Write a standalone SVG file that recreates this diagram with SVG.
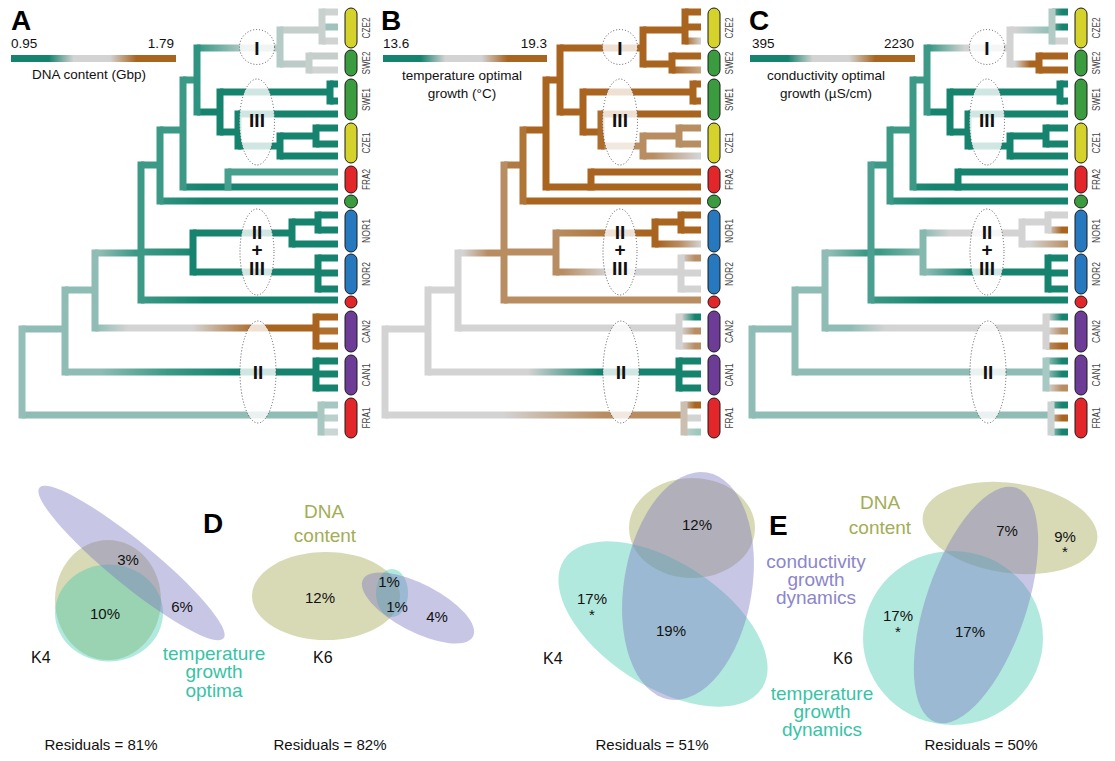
<svg xmlns="http://www.w3.org/2000/svg" width="1115" height="761" viewBox="0 0 1115 761">
<style>
text{font-family:"Liberation Sans",Arial,sans-serif}
.T{fill:#16836e}.Tm{fill:#3c9986}.L{fill:#8fbcb4}.G{fill:#d3d3d3}.N{fill:#b88d62}.B{fill:#a9641f}
.lab{font-size:13.5px;fill:#111}
.let{font-size:28px;font-weight:bold;fill:#000}
.rn{font-size:19px;font-weight:bold;fill:#111;text-anchor:middle}
.cl{fill:#fff;fill-opacity:.8;stroke:#555;stroke-width:1;stroke-dasharray:1 2}
.pill{stroke:#1a1a1a;stroke-width:1}
.tip{font-size:10.5px;fill:#444;text-anchor:middle}
.vo{fill:#a9ad5a;fill-opacity:.45}
.vp{fill:#7b76c0;fill-opacity:.42}
.vt{fill:#3cc9ac;fill-opacity:.4}
.pc{font-size:15px;fill:#111;text-anchor:middle}
.k{font-size:16px;fill:#111}
.cat{font-size:19px;text-anchor:middle}
.co{fill:#a3ad55}.ct{fill:#38c3a6}.cp{fill:#8c86c9}
</style>
<defs>
<linearGradient id="leg" x1="0" x2="1" y1="0" y2="0"><stop offset="0" stop-color="#16836e"/><stop offset=".23" stop-color="#16836e"/><stop offset=".38" stop-color="#d3d3d3"/><stop offset=".6" stop-color="#d3d3d3"/><stop offset=".76" stop-color="#a9641f"/><stop offset="1" stop-color="#a9641f"/></linearGradient>
<linearGradient id="g1" gradientUnits="userSpaceOnUse" x1="100" x2="235" y1="0" y2="0"><stop offset="0" stop-color="#8fbcb4"/><stop offset=".5" stop-color="#3c9986"/><stop offset="1" stop-color="#16836e"/></linearGradient>
<linearGradient id="g2" gradientUnits="userSpaceOnUse" x1="95" x2="258" y1="0" y2="0"><stop offset="0" stop-color="#8fbcb4"/><stop offset=".2" stop-color="#d3d3d3"/><stop offset=".6" stop-color="#d3d3d3"/><stop offset="1" stop-color="#a9641f"/></linearGradient>
<linearGradient id="g3" gradientUnits="userSpaceOnUse" x1="100" x2="135" y1="0" y2="0"><stop offset="0" stop-color="#8fbcb4"/><stop offset="1" stop-color="#3c9986"/></linearGradient>
<linearGradient id="g4" gradientUnits="userSpaceOnUse" x1="141" x2="205" y1="0" y2="0"><stop offset="0" stop-color="#3c9986"/><stop offset="1" stop-color="#16836e"/></linearGradient>
<linearGradient id="g5" gradientUnits="userSpaceOnUse" x1="200" x2="245" y1="0" y2="0"><stop offset="0" stop-color="#3c9986"/><stop offset="1" stop-color="#b5cbc6"/></linearGradient>
<linearGradient id="h1" gradientUnits="userSpaceOnUse" x1="140" x2="240" y1="0" y2="0"><stop offset="0" stop-color="#d3d3d3"/><stop offset="1" stop-color="#b88d62"/></linearGradient>
<linearGradient id="h2" gradientUnits="userSpaceOnUse" x1="165" x2="235" y1="0" y2="0"><stop offset="0" stop-color="#d3d3d3"/><stop offset="1" stop-color="#16836e"/></linearGradient>
<linearGradient id="h3" gradientUnits="userSpaceOnUse" x1="100" x2="125" y1="0" y2="0"><stop offset="0" stop-color="#d3d3d3"/><stop offset="1" stop-color="#b88d62"/></linearGradient>
<linearGradient id="h4" gradientUnits="userSpaceOnUse" x1="193" x2="280" y1="0" y2="0"><stop offset="0" stop-color="#b88d62"/><stop offset="1" stop-color="#a9641f"/></linearGradient>
<linearGradient id="h5" gradientUnits="userSpaceOnUse" x1="295" x2="338" y1="0" y2="0"><stop offset="0" stop-color="#a9641f"/><stop offset=".5" stop-color="#b88d62"/><stop offset="1" stop-color="#d3d3d3"/></linearGradient>
<linearGradient id="h6" gradientUnits="userSpaceOnUse" x1="200" x2="245" y1="0" y2="0"><stop offset="0" stop-color="#b88d62"/><stop offset="1" stop-color="#d3d3d3"/></linearGradient>
<linearGradient id="h7" gradientUnits="userSpaceOnUse" x1="322" x2="338" y1="0" y2="0"><stop offset="0" stop-color="#a9641f"/><stop offset="1" stop-color="#d3d3d3"/></linearGradient>
<linearGradient id="h8" gradientUnits="userSpaceOnUse" x1="309" x2="338" y1="0" y2="0"><stop offset="0" stop-color="#a9641f"/><stop offset="1" stop-color="#c9a987"/></linearGradient>
<linearGradient id="h9" gradientUnits="userSpaceOnUse" x1="290" x2="335" y1="0" y2="0"><stop offset="0" stop-color="#b88d62"/><stop offset="1" stop-color="#d3d3d3"/></linearGradient>
<linearGradient id="h10" gradientUnits="userSpaceOnUse" x1="318" x2="332" y1="0" y2="0"><stop offset="0" stop-color="#d3d3d3"/><stop offset="1" stop-color="#16836e"/></linearGradient>
<linearGradient id="h11" gradientUnits="userSpaceOnUse" x1="318" x2="332" y1="0" y2="0"><stop offset="0" stop-color="#d3d3d3"/><stop offset="1" stop-color="#b88d62"/></linearGradient>
<linearGradient id="h12" gradientUnits="userSpaceOnUse" x1="318" x2="332" y1="0" y2="0"><stop offset="0" stop-color="#d3d3d3"/><stop offset="1" stop-color="#a9641f"/></linearGradient>
<linearGradient id="h13" gradientUnits="userSpaceOnUse" x1="318" x2="334" y1="0" y2="0"><stop offset="0" stop-color="#d3d3d3"/><stop offset="1" stop-color="#9cc8be"/></linearGradient>
<linearGradient id="k1" gradientUnits="userSpaceOnUse" x1="120" x2="155" y1="0" y2="0"><stop offset="0" stop-color="#8fbcb4"/><stop offset="1" stop-color="#d3d3d3"/></linearGradient>
<linearGradient id="k4" gradientUnits="userSpaceOnUse" x1="195" x2="220" y1="0" y2="0"><stop offset="0" stop-color="#8fbcb4"/><stop offset="1" stop-color="#d3d3d3"/></linearGradient>
<linearGradient id="k5" gradientUnits="userSpaceOnUse" x1="195" x2="240" y1="0" y2="0"><stop offset="0" stop-color="#8fbcb4"/><stop offset="1" stop-color="#16836e"/></linearGradient>
<linearGradient id="k6" gradientUnits="userSpaceOnUse" x1="200" x2="235" y1="0" y2="0"><stop offset="0" stop-color="#3c9986"/><stop offset="1" stop-color="#d3d3d3"/></linearGradient>
<linearGradient id="k7" gradientUnits="userSpaceOnUse" x1="285" x2="322" y1="0" y2="0"><stop offset="0" stop-color="#d3d3d3"/><stop offset="1" stop-color="#8cbfb5"/></linearGradient>
<linearGradient id="k8" gradientUnits="userSpaceOnUse" x1="285" x2="300" y1="0" y2="0"><stop offset="0" stop-color="#d3d3d3"/><stop offset="1" stop-color="#a9641f"/></linearGradient>
<linearGradient id="k9" gradientUnits="userSpaceOnUse" x1="318" x2="332" y1="0" y2="0"><stop offset="0" stop-color="#8fbcb4"/><stop offset="1" stop-color="#16836e"/></linearGradient>
<linearGradient id="k13" gradientUnits="userSpaceOnUse" x1="318" x2="332" y1="0" y2="0"><stop offset="0" stop-color="#b88d62"/><stop offset="1" stop-color="#a9641f"/></linearGradient>
<linearGradient id="k14" gradientUnits="userSpaceOnUse" x1="150" x2="193" y1="0" y2="0"><stop offset="0" stop-color="#3c9986"/><stop offset="1" stop-color="#86b9ae"/></linearGradient>
<linearGradient id="k15" gradientUnits="userSpaceOnUse" x1="300" x2="338" y1="0" y2="0"><stop offset="0" stop-color="#d3d3d3"/><stop offset="1" stop-color="#b88d62"/></linearGradient>
</defs>
<rect width="1115" height="761" fill="#fff"/>

<!-- Legends -->
<g id="legendA">
<text class="let" x="11" y="30">A</text>
<text class="lab" x="11" y="48">0.95</text>
<text class="lab" x="174" y="48" text-anchor="end">1.79</text>
<rect x="11" y="55" width="165" height="7" fill="url(#leg)"/>
<text class="lab" x="89" y="79" text-anchor="middle">DNA content (Gbp)</text>
</g>
<g id="legendB">
<text class="let" x="381" y="30">B</text>
<text class="lab" x="383" y="48">13.6</text>
<text class="lab" x="547" y="48" text-anchor="end">19.3</text>
<rect x="383" y="55" width="164" height="7" fill="url(#leg)"/>
<text class="lab" x="462" y="80" text-anchor="middle">temperature optimal</text>
<text class="lab" x="462" y="98" text-anchor="middle">growth (°C)</text>
</g>
<g id="legendC">
<text class="let" x="749" y="30">C</text>
<text class="lab" x="752" y="48">395</text>
<text class="lab" x="914" y="48" text-anchor="end">2230</text>
<rect x="750" y="55" width="165" height="7" fill="url(#leg)"/>
<text class="lab" x="826" y="80" text-anchor="middle">conductivity optimal</text>
<text class="lab" x="826" y="98" text-anchor="middle">growth (µS/cm)</text>
</g>

<!-- Panel A tree -->
<g id="treeA">
<g id="connectorsA">
<rect class="L" x="22" y="411.5" width="299" height="7"/>
<rect class="L" x="22" y="325.5" width="43" height="7"/>
<rect fill="url(#g1)" x="65" y="368.5" width="251" height="7"/>
<rect class="L" x="65" y="286.5" width="30" height="7"/>
<rect fill="url(#g2)" x="95" y="324.5" width="221" height="7"/>
<rect fill="url(#g3)" x="95" y="249.5" width="46" height="7"/>
<rect fill="url(#g4)" x="141" y="296.5" width="197" height="7"/>
<rect fill="url(#g4)" x="141" y="248.5" width="52" height="7"/>
<rect class="T" x="193" y="229.5" width="99" height="7"/>
<rect class="T" x="193" y="268.5" width="125" height="7"/>
<rect class="T" x="292" y="218.5" width="26" height="7"/>
<rect class="T" x="318" y="211.5" width="20" height="7"/>
<rect class="T" x="318" y="226.5" width="20" height="7"/>
<rect class="T" x="292" y="240.5" width="46" height="7"/>
<rect class="T" x="318" y="254.5" width="20" height="7"/>
<rect class="T" x="318" y="269.5" width="20" height="7"/>
<rect class="T" x="318" y="285.5" width="20" height="7"/>
<rect class="Tm" x="141" y="161.5" width="19" height="7"/>
<rect fill="url(#g4)" x="160" y="197.5" width="178" height="7"/>
<rect class="Tm" x="160" y="126.5" width="23" height="7"/>
<rect fill="url(#g4)" x="183" y="183.5" width="155" height="7"/>
<rect fill="#45a08d" x="228" y="168.5" width="110" height="7"/>
<rect class="Tm" x="183" y="76.5" width="14" height="7"/>
<rect fill="url(#g5)" x="197" y="44.5" width="83" height="7"/>
<rect fill="#c4cecb" x="280" y="26.5" width="42" height="7"/>
<rect fill="#ccd3d1" x="322" y="8.5" width="16" height="7"/>
<rect fill="#9fc3bc" x="322" y="23.5" width="16" height="7"/>
<rect fill="#d0d3d2" x="322" y="37.5" width="16" height="7"/>
<rect fill="#bccbc8" x="280" y="60.5" width="29" height="7"/>
<rect fill="#c4cfcc" x="309" y="52.5" width="29" height="7"/>
<rect fill="#d0d4d3" x="309" y="66.5" width="29" height="7"/>
<rect class="T" x="197" y="108.5" width="23" height="7"/>
<rect class="T" x="220" y="88.5" width="110" height="7"/>
<rect class="T" x="330" y="80.5" width="8" height="7"/>
<rect class="T" x="330" y="97.5" width="8" height="7"/>
<rect class="T" x="220" y="128.5" width="18" height="7"/>
<rect class="T" x="238" y="110.5" width="100" height="7"/>
<rect class="T" x="238" y="142.5" width="42" height="7"/>
<rect class="T" x="280" y="132.5" width="36" height="7"/>
<rect class="T" x="316" y="124.5" width="22" height="7"/>
<rect class="T" x="316" y="140.5" width="22" height="7"/>
<rect class="T" x="280" y="152.5" width="58" height="7"/>
<rect class="B" x="316" y="313.5" width="22" height="7"/>
<rect fill="#b0712f" x="316" y="327.5" width="22" height="7"/>
<rect class="B" x="316" y="342.5" width="22" height="7"/>
<rect class="T" x="316" y="357.5" width="22" height="7"/>
<rect class="T" x="316" y="370.5" width="22" height="7"/>
<rect class="T" x="316" y="384.5" width="22" height="7"/>
<rect fill="#a6c7c1" x="321" y="401.5" width="17" height="7"/>
<rect fill="#b9d0cb" x="321" y="414.5" width="17" height="7"/>
<rect fill="#c9d6d3" x="321" y="428.5" width="17" height="7"/>
<rect fill="#93bfb7" x="18.5" y="325.5" width="7" height="93"/>
<rect class="L" x="61.5" y="286.5" width="7" height="89"/>
<rect class="L" x="91.5" y="249.5" width="7" height="82"/>
<rect class="Tm" x="137.5" y="161.5" width="7" height="142"/>
<rect class="Tm" x="156.5" y="126.5" width="7" height="78"/>
<rect class="Tm" x="179.5" y="76.5" width="7" height="114"/>
<rect fill="#2f9381" x="193.5" y="44.5" width="7" height="71"/>
<rect class="T" x="216.5" y="88.5" width="7" height="47"/>
<rect class="T" x="234.5" y="110.5" width="7" height="39"/>
<rect class="T" x="276.5" y="132.5" width="7" height="27"/>
<rect class="T" x="312.5" y="124.5" width="7" height="23"/>
<rect fill="#b6cbc7" x="276.5" y="26.5" width="7" height="41"/>
<rect fill="#c9d1cf" x="318.5" y="8.5" width="7" height="36"/>
<rect fill="#c5cfcc" x="305.5" y="52.5" width="7" height="21"/>
<rect class="T" x="326.5" y="80.5" width="7" height="24"/>
<rect fill="#45a08d" x="224.5" y="168.5" width="7" height="22"/>
<rect class="T" x="189.5" y="229.5" width="7" height="46"/>
<rect class="T" x="288.5" y="218.5" width="7" height="29"/>
<rect class="T" x="314.5" y="211.5" width="7" height="22"/>
<rect class="T" x="314.5" y="254.5" width="7" height="38"/>
<rect class="B" x="312.5" y="313.5" width="7" height="36"/>
<rect class="T" x="312.5" y="357.5" width="7" height="34"/>
<rect fill="#a9c8c2" x="317.5" y="401.5" width="7" height="34"/>
</g>
<g id="cladesA">
<circle class="cl" cx="257" cy="47" r="17.5"/>
<ellipse class="cl" cx="257" cy="122" rx="17.5" ry="43"/>
<ellipse class="cl" cx="257" cy="252" rx="17" ry="43"/>
<ellipse class="cl" cx="258" cy="372" rx="18" ry="51"/>
<text class="rn" x="257" y="55">I</text>
<text class="rn" x="257" y="127">III</text>
<text class="rn" x="257" y="239">II</text>
<text class="rn" x="257" y="256">+</text>
<text class="rn" x="257" y="275">III</text>
<text class="rn" x="258" y="379">II</text>
</g>
<g id="tipsA">
<g id="CZE2"><rect class="pill" x="345" y="8" width="12" height="40" rx="6" fill="#d5d22c"/><text class="tip" transform="translate(370,28) rotate(-90)" textLength="21" lengthAdjust="spacingAndGlyphs">CZE2</text></g>
<g id="SWE2"><rect class="pill" x="345" y="50" width="12" height="26" rx="6" fill="#3b9b3f"/><text class="tip" transform="translate(370,63) rotate(-90)" textLength="23" lengthAdjust="spacingAndGlyphs">SWE2</text></g>
<g id="SWE1"><rect class="pill" x="345" y="79" width="12" height="41" rx="6" fill="#3b9b3f"/><text class="tip" transform="translate(370,99.5) rotate(-90)" textLength="23" lengthAdjust="spacingAndGlyphs">SWE1</text></g>
<g id="CZE1"><rect class="pill" x="345" y="123" width="12" height="40" rx="6" fill="#d5d22c"/><text class="tip" transform="translate(370,143) rotate(-90)" textLength="21" lengthAdjust="spacingAndGlyphs">CZE1</text></g>
<g id="FRA2"><rect class="pill" x="345" y="166" width="12" height="27" rx="6" fill="#e2262a"/><text class="tip" transform="translate(370,179.5) rotate(-90)" textLength="21" lengthAdjust="spacingAndGlyphs">FRA2</text></g>
<g id="dotG"><circle class="pill" cx="351" cy="201.5" r="6.5" fill="#3b9b3f"/></g>
<g id="NOR1"><rect class="pill" x="345" y="210" width="12" height="42" rx="6" fill="#2678bf"/><text class="tip" transform="translate(370,231) rotate(-90)" textLength="24" lengthAdjust="spacingAndGlyphs">NOR1</text></g>
<g id="NOR2"><rect class="pill" x="345" y="254" width="12" height="40" rx="6" fill="#2678bf"/><text class="tip" transform="translate(370,274) rotate(-90)" textLength="24" lengthAdjust="spacingAndGlyphs">NOR2</text></g>
<g id="dotR"><circle class="pill" cx="351" cy="302" r="6" fill="#e2262a"/></g>
<g id="CAN2"><rect class="pill" x="345" y="311" width="12" height="41" rx="6" fill="#6d3c97"/><text class="tip" transform="translate(370,331.5) rotate(-90)" textLength="23" lengthAdjust="spacingAndGlyphs">CAN2</text></g>
<g id="CAN1"><rect class="pill" x="345" y="355" width="12" height="40" rx="6" fill="#6d3c97"/><text class="tip" transform="translate(370,375) rotate(-90)" textLength="23" lengthAdjust="spacingAndGlyphs">CAN1</text></g>
<g id="FRA1"><rect class="pill" x="345" y="398" width="12" height="40" rx="6" fill="#e2262a"/><text class="tip" transform="translate(370,418) rotate(-90)" textLength="21" lengthAdjust="spacingAndGlyphs">FRA1</text></g>
</g>
</g>

<!-- Panel B tree -->
<g id="treeB" transform="translate(363,0)">
<g id="connectorsB">
<rect fill="url(#h1)" x="22" y="411.5" width="299" height="7"/>
<rect class="G" x="22" y="325.5" width="43" height="7"/>
<rect fill="url(#h2)" x="65" y="368.5" width="251" height="7"/>
<rect class="G" x="65" y="286.5" width="30" height="7"/>
<rect class="G" x="95" y="324.5" width="221" height="7"/>
<rect fill="url(#h3)" x="95" y="249.5" width="46" height="7"/>
<rect class="N" x="141" y="296.5" width="197" height="7"/>
<rect class="N" x="141" y="248.5" width="52" height="7"/>
<rect fill="url(#h4)" x="193" y="229.5" width="99" height="7"/>
<rect fill="url(#h6)" x="193" y="268.5" width="125" height="7"/>
<rect class="B" x="292" y="218.5" width="26" height="7"/>
<rect class="B" x="318" y="211.5" width="20" height="7"/>
<rect class="B" x="318" y="226.5" width="20" height="7"/>
<rect fill="url(#h5)" x="292" y="240.5" width="46" height="7"/>
<rect fill="url(#h11)" x="318" y="254.5" width="20" height="7"/>
<rect class="G" x="318" y="269.5" width="20" height="7"/>
<rect class="G" x="318" y="285.5" width="20" height="7"/>
<rect fill="#b07a45" x="141" y="161.5" width="19" height="7"/>
<rect class="B" x="160" y="197.5" width="178" height="7"/>
<rect class="B" x="160" y="126.5" width="23" height="7"/>
<rect class="B" x="183" y="183.5" width="155" height="7"/>
<rect class="B" x="228" y="168.5" width="110" height="7"/>
<rect class="B" x="183" y="76.5" width="14" height="7"/>
<rect class="B" x="197" y="44.5" width="83" height="7"/>
<rect class="B" x="280" y="26.5" width="42" height="7"/>
<rect class="B" x="322" y="8.5" width="16" height="7"/>
<rect class="B" x="322" y="23.5" width="16" height="7"/>
<rect fill="url(#h7)" x="322" y="37.5" width="16" height="7"/>
<rect class="B" x="280" y="60.5" width="29" height="7"/>
<rect class="B" x="309" y="52.5" width="29" height="7"/>
<rect fill="url(#h8)" x="309" y="66.5" width="29" height="7"/>
<rect class="B" x="197" y="108.5" width="23" height="7"/>
<rect class="B" x="220" y="88.5" width="110" height="7"/>
<rect class="B" x="330" y="80.5" width="8" height="7"/>
<rect class="B" x="330" y="97.5" width="8" height="7"/>
<rect class="B" x="220" y="128.5" width="18" height="7"/>
<rect class="B" x="238" y="110.5" width="100" height="7"/>
<rect class="N" x="238" y="142.5" width="42" height="7"/>
<rect class="N" x="280" y="132.5" width="36" height="7"/>
<rect class="N" x="316" y="124.5" width="22" height="7"/>
<rect class="N" x="316" y="140.5" width="22" height="7"/>
<rect fill="url(#h9)" x="280" y="152.5" width="58" height="7"/>
<rect fill="url(#h10)" x="316" y="313.5" width="22" height="7"/>
<rect fill="url(#h11)" x="316" y="327.5" width="22" height="7"/>
<rect fill="url(#h11)" x="316" y="342.5" width="22" height="7"/>
<rect class="T" x="316" y="357.5" width="22" height="7"/>
<rect class="T" x="316" y="370.5" width="22" height="7"/>
<rect class="T" x="316" y="384.5" width="22" height="7"/>
<rect fill="url(#h12)" x="321" y="401.5" width="17" height="7"/>
<rect class="G" x="321" y="414.5" width="17" height="7"/>
<rect fill="url(#h13)" x="321" y="428.5" width="17" height="7"/>
<rect class="G" x="18.5" y="325.5" width="7" height="93"/>
<rect class="G" x="61.5" y="286.5" width="7" height="89"/>
<rect class="G" x="91.5" y="249.5" width="7" height="82"/>
<rect class="N" x="137.5" y="161.5" width="7" height="142"/>
<rect fill="#ae7537" x="156.5" y="126.5" width="7" height="78"/>
<rect class="B" x="179.5" y="76.5" width="7" height="114"/>
<rect class="B" x="193.5" y="44.5" width="7" height="71"/>
<rect class="B" x="216.5" y="88.5" width="7" height="47"/>
<rect fill="#ad6c2b" x="234.5" y="110.5" width="7" height="39"/>
<rect class="N" x="276.5" y="132.5" width="7" height="27"/>
<rect class="N" x="312.5" y="124.5" width="7" height="23"/>
<rect class="B" x="276.5" y="26.5" width="7" height="41"/>
<rect class="B" x="318.5" y="8.5" width="7" height="36"/>
<rect class="B" x="305.5" y="52.5" width="7" height="21"/>
<rect class="B" x="326.5" y="80.5" width="7" height="24"/>
<rect class="B" x="224.5" y="168.5" width="7" height="22"/>
<rect class="N" x="189.5" y="229.5" width="7" height="46"/>
<rect class="B" x="288.5" y="218.5" width="7" height="29"/>
<rect class="B" x="314.5" y="211.5" width="7" height="22"/>
<rect class="G" x="314.5" y="254.5" width="7" height="38"/>
<rect class="G" x="312.5" y="313.5" width="7" height="36"/>
<rect class="T" x="312.5" y="357.5" width="7" height="34"/>
<rect fill="#cbbfb2" x="317.5" y="401.5" width="7" height="34"/>
</g>
<use href="#cladesA"/>
<use href="#tipsA"/>
</g>

<!-- Panel C tree -->
<g id="treeC" transform="translate(730,0)">
<g id="connectorsC">
<rect class="L" x="22" y="411.5" width="299" height="7"/>
<rect class="L" x="22" y="325.5" width="43" height="7"/>
<rect class="L" x="65" y="368.5" width="251" height="7"/>
<rect class="L" x="65" y="286.5" width="30" height="7"/>
<rect fill="url(#k1)" x="95" y="324.5" width="221" height="7"/>
<rect fill="url(#g3)" x="95" y="249.5" width="46" height="7"/>
<rect fill="url(#g4)" x="141" y="296.5" width="197" height="7"/>
<rect fill="url(#k14)" x="141" y="248.5" width="52" height="7"/>
<rect fill="url(#k4)" x="193" y="229.5" width="99" height="7"/>
<rect fill="url(#k5)" x="193" y="268.5" width="125" height="7"/>
<rect class="G" x="292" y="218.5" width="26" height="7"/>
<rect class="G" x="318" y="211.5" width="20" height="7"/>
<rect fill="url(#h12)" x="318" y="226.5" width="20" height="7"/>
<rect fill="url(#k15)" x="292" y="240.5" width="46" height="7"/>
<rect class="T" x="318" y="254.5" width="20" height="7"/>
<rect class="T" x="318" y="269.5" width="20" height="7"/>
<rect class="T" x="318" y="285.5" width="20" height="7"/>
<rect class="Tm" x="141" y="161.5" width="19" height="7"/>
<rect fill="url(#g4)" x="160" y="197.5" width="178" height="7"/>
<rect class="Tm" x="160" y="126.5" width="23" height="7"/>
<rect fill="url(#g4)" x="183" y="183.5" width="155" height="7"/>
<rect class="T" x="228" y="168.5" width="110" height="7"/>
<rect class="Tm" x="183" y="76.5" width="14" height="7"/>
<rect fill="url(#k6)" x="197" y="44.5" width="83" height="7"/>
<rect fill="url(#k7)" x="280" y="26.5" width="42" height="7"/>
<rect fill="url(#k9)" x="322" y="8.5" width="16" height="7"/>
<rect fill="url(#k9)" x="322" y="23.5" width="16" height="7"/>
<rect class="G" x="322" y="37.5" width="16" height="7"/>
<rect fill="url(#k8)" x="280" y="60.5" width="29" height="7"/>
<rect class="B" x="309" y="52.5" width="29" height="7"/>
<rect class="B" x="309" y="66.5" width="29" height="7"/>
<rect class="T" x="197" y="108.5" width="23" height="7"/>
<rect class="T" x="220" y="88.5" width="110" height="7"/>
<rect class="T" x="330" y="80.5" width="8" height="7"/>
<rect class="T" x="330" y="97.5" width="8" height="7"/>
<rect class="T" x="220" y="128.5" width="18" height="7"/>
<rect class="T" x="238" y="110.5" width="100" height="7"/>
<rect class="T" x="238" y="142.5" width="42" height="7"/>
<rect class="T" x="280" y="132.5" width="36" height="7"/>
<rect class="T" x="316" y="124.5" width="22" height="7"/>
<rect class="T" x="316" y="140.5" width="22" height="7"/>
<rect class="T" x="280" y="152.5" width="58" height="7"/>
<rect fill="url(#h10)" x="316" y="313.5" width="22" height="7"/>
<rect fill="url(#h11)" x="316" y="327.5" width="22" height="7"/>
<rect fill="url(#k13)" x="316" y="342.5" width="22" height="7"/>
<rect fill="url(#k9)" x="316" y="357.5" width="22" height="7"/>
<rect fill="url(#k9)" x="316" y="370.5" width="22" height="7"/>
<rect fill="url(#h11)" x="316" y="384.5" width="22" height="7"/>
<rect fill="url(#k9)" x="321" y="401.5" width="17" height="7"/>
<rect fill="url(#h12)" x="321" y="414.5" width="17" height="7"/>
<rect fill="url(#h10)" x="321" y="428.5" width="17" height="7"/>
<rect class="L" x="18.5" y="325.5" width="7" height="93"/>
<rect class="L" x="61.5" y="286.5" width="7" height="89"/>
<rect class="L" x="91.5" y="249.5" width="7" height="82"/>
<rect fill="#4a9f90" x="137.5" y="161.5" width="7" height="142"/>
<rect class="Tm" x="156.5" y="126.5" width="7" height="78"/>
<rect class="Tm" x="179.5" y="76.5" width="7" height="114"/>
<rect class="Tm" x="193.5" y="44.5" width="7" height="71"/>
<rect class="T" x="216.5" y="88.5" width="7" height="47"/>
<rect class="T" x="234.5" y="110.5" width="7" height="39"/>
<rect class="T" x="276.5" y="132.5" width="7" height="27"/>
<rect class="T" x="312.5" y="124.5" width="7" height="23"/>
<rect class="G" x="276.5" y="26.5" width="7" height="41"/>
<rect fill="#b3cbc5" x="318.5" y="8.5" width="7" height="36"/>
<rect class="B" x="305.5" y="52.5" width="7" height="21"/>
<rect class="T" x="326.5" y="80.5" width="7" height="24"/>
<rect class="T" x="224.5" y="168.5" width="7" height="22"/>
<rect fill="#86b9ae" x="189.5" y="229.5" width="7" height="46"/>
<rect class="G" x="288.5" y="218.5" width="7" height="29"/>
<rect class="G" x="314.5" y="211.5" width="7" height="22"/>
<rect class="T" x="314.5" y="254.5" width="7" height="38"/>
<rect class="G" x="312.5" y="313.5" width="7" height="36"/>
<rect fill="#a6cac3" x="312.5" y="357.5" width="7" height="34"/>
<rect fill="#c9d3d1" x="317.5" y="401.5" width="7" height="34"/>
</g>
<use href="#cladesA"/>
<use href="#tipsA"/>
</g>

<!-- Panel D -->
<text class="let" x="203" y="533" font-size="30">D</text>
<g id="D-K4">
<ellipse class="vo" cx="108" cy="600" rx="53" ry="60"/>
<ellipse class="vt" cx="109" cy="613" rx="54" ry="48.5"/>
<ellipse class="vp" cx="131.5" cy="563" rx="119" ry="22" transform="rotate(39.3 131.5 563)"/>
<text class="pc" x="128" y="565">3%</text>
<text class="pc" x="105" y="619">10%</text>
<text class="pc" x="182" y="612">6%</text>
<text class="k" x="31" y="663">K4</text>
</g>
<g id="D-K6">
<ellipse class="vo" cx="326" cy="596" rx="74" ry="44"/>
<ellipse class="vt" cx="392" cy="593" rx="16" ry="24"/>
<ellipse class="vp" cx="418" cy="608" rx="62" ry="24" transform="rotate(27.4 418 608)"/>
<text class="pc" x="320" y="603">12%</text>
<text class="pc" x="389" y="587">1%</text>
<text class="pc" x="397" y="612">1%</text>
<text class="pc" x="437" y="622">4%</text>
<text class="k" x="313" y="663">K6</text>
</g>
<g id="D-labels">
<text class="cat co" x="324" y="518">DNA</text>
<text class="cat co" x="325" y="542">content</text>
<text class="cat ct" x="214" y="660">temperature</text>
<text class="cat ct" x="214" y="678">growth</text>
<text class="cat ct" x="214" y="697">optima</text>
<text class="pc" x="101" y="750">Residuals = 81%</text>
<text class="pc" x="330" y="750">Residuals = 82%</text>
</g>

<!-- Panel E -->
<text class="let" x="769" y="535" font-size="30">E</text>
<g id="E-K4">
<ellipse class="vo" cx="692" cy="528" rx="63" ry="50"/>
<ellipse class="vt" cx="663" cy="624" rx="118" ry="62" transform="rotate(33 663 624)"/>
<ellipse class="vp" cx="688" cy="586" rx="64" ry="115" transform="rotate(9.5 688 586)"/>
<text class="pc" x="697" y="530">12%</text>
<text class="pc" x="592" y="604">17%</text>
<text class="pc" x="592" y="620">*</text>
<text class="pc" x="671" y="636">19%</text>
<text class="k" x="543" y="664">K4</text>
</g>
<g id="E-K6">
<ellipse class="vo" cx="1010" cy="528" rx="88" ry="45" transform="rotate(8 1010 528)"/>
<ellipse class="vt" cx="953" cy="638" rx="90" ry="87"/>
<ellipse class="vp" cx="976" cy="605" rx="50" ry="124" transform="rotate(19 976 605)"/>
<text class="pc" x="1007" y="536">7%</text>
<text class="pc" x="1065" y="542">9%</text>
<text class="pc" x="1065" y="557">*</text>
<text class="pc" x="898" y="621">17%</text>
<text class="pc" x="898" y="637">*</text>
<text class="pc" x="970" y="637">17%</text>
<text class="k" x="833" y="664">K6</text>
</g>
<g id="E-labels">
<text class="cat co" x="880" y="509">DNA</text>
<text class="cat co" x="880" y="534">content</text>
<text class="cat cp" x="816" y="568">conductivity</text>
<text class="cat cp" x="816" y="586">growth</text>
<text class="cat cp" x="816" y="604">dynamics</text>
<text class="cat ct" x="822" y="700">temperature</text>
<text class="cat ct" x="822" y="718">growth</text>
<text class="cat ct" x="822" y="736">dynamics</text>
<text class="pc" x="652" y="750">Residuals = 51%</text>
<text class="pc" x="981" y="750">Residuals = 50%</text>
</g>
</svg>
